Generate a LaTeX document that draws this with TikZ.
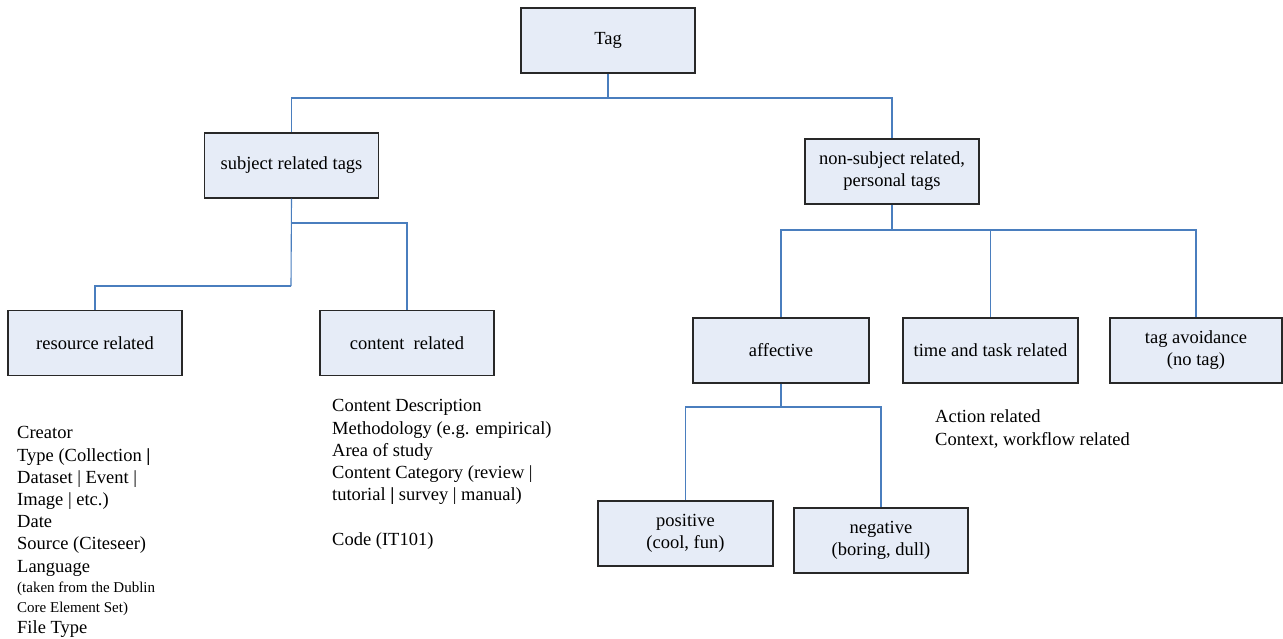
\documentclass[tikz,border=0pt]{standalone}
\usepackage{fontspec}
\setmainfont{Liberation Serif}
\definecolor{boxfill}{RGB}{230,236,247}
\definecolor{linkblue}{RGB}{74,126,190}
\definecolor{boxline}{RGB}{40,40,40}
\begin{document}
\begin{tikzpicture}[x=1pt,y=-1pt,
  tagbox/.style={draw=boxline,line width=1.3pt,fill=boxfill,minimum width=174pt,minimum height=65pt,inner sep=0pt,align=center,font=\fontsize{18.5}{22}\selectfont},
  conn/.style={draw=linkblue,line width=1.1pt},
  listtext/.style={anchor=base west,inner sep=0pt,align=left,font=\fontsize{18.5}{22.2}\selectfont},
  smalltext/.style={anchor=base west,inner sep=0pt,align=left,font=\fontsize{15}{20}\selectfont}]
\useasboundingbox (0,0) rectangle (1283,638);
% boxes
\node[tagbox] (tag) at (608,40.5) {Tag};
\node[tagbox] (subj) at (291.5,165.5) {subject related tags};
\node[tagbox] (nons) at (892,171.5) {non-subject related,\\personal tags};
\node[tagbox] (res) at (95,343) {resource related};
\node[tagbox] (cont) at (407,343) {content~ related};
\node[tagbox,minimum width=176pt] (aff) at (781,350.5) {affective};
\node[tagbox,minimum width=175pt] (time) at (990.5,350.5) {time and task related};
\node[tagbox,minimum width=172pt] (avoid) at (1196,350.5) {tag avoidance\\(no tag)};
\node[tagbox,minimum width=175pt] (pos) at (685.5,533.5) {positive\\(cool, fun)};
\node[tagbox] (neg) at (881,540.5) {negative\\(boring, dull)};
% junctions
\coordinate (jt) at (608,98);
\coordinate (js1) at (291,223);
\coordinate (js2) at (291,286);
\coordinate (jn) at (892,230);
\coordinate (ja) at (781,407);
% connectors
\draw[conn] (tag.south) -- (jt);
\draw[conn] (jt) -| (subj.north);
\draw[conn] (jt) -| (nons.north);
\draw[conn] (subj.south) -- (js2);
\draw[conn] (js1) -| (cont.north);
\draw[conn] (js2) -| (res.north);
\draw[conn] (nons.south) -- (jn);
\draw[conn] (jn) -| (aff.north);
\draw[conn] (jn) -| (time.north);
\draw[conn] (jn) -| (avoid.north);
\draw[conn] (aff.south) -- (ja);
\draw[conn] (ja) -| (pos.north);
\draw[conn] (ja) -| (neg.north);
% text lists (base anchor = baseline of the last line)
\node[listtext] (reslist) at (17,572) {Creator\\Type (Collection \textbf{|}\\Dataset | Event |\\Image | etc.)\\Date\\Source (Citeseer)\\Language};
\node[smalltext] (dublin) at (17,612) {(taken from the Dublin\\Core Element Set)};
\node[listtext] (filetype) at (17,633) {File Type};
\node[listtext] (contlist) at (332,545) {Content Description\\Methodology (e.g. empirical)\\Area of study\\Content Category (review |\\tutorial \textbf{|} survey | manual)\\[22.2pt]Code (IT101)};
\node[listtext] (timelist) at (935,445) {Action related\\Context, workflow related};
\end{tikzpicture}
\end{document}
